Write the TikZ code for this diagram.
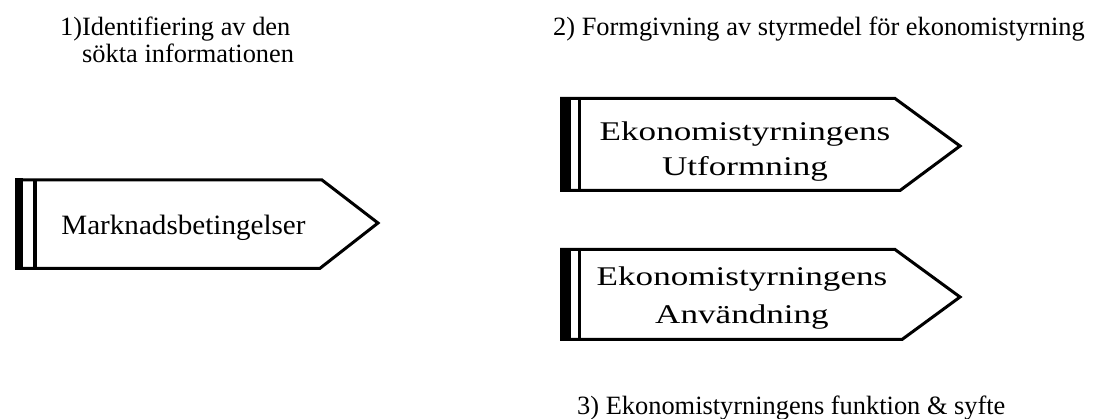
\documentclass[tikz,border=0pt]{standalone}
\usepackage{fontspec}
\setmainfont{Liberation Serif}
\newfontfamily\widefont[FakeStretch=1.3]{Liberation Serif}
\newfontfamily\markfont[FakeStretch=1.04]{Liberation Serif}
\begin{document}
\begin{tikzpicture}[x=1pt,y=-1pt,
  post/.style={draw=black, line width=3pt, line join=miter, fill=white},
  postbar/.style={fill=black},
  postline/.style={draw=black, line width=3.5pt},
  head/.style={inner sep=0pt, font=\fontsize{26.4}{27}\selectfont},
  signtext/.style={inner sep=0pt, align=center}
]
\useasboundingbox (0,0) rectangle (1093,419);
\fill[white] (0,0) rectangle (1093,419);

% left signpost
\path[post] (16.5,180) -- (322,180) -- (378,223) -- (320,268.3) -- (16.5,268.3) -- cycle;
\path[postbar] (15,178.5) rectangle (23,269.8);
\draw[postline] (35,180) -- (35,268.3);
\node[inner sep=0pt, anchor=base, font=\markfont\fontsize{28}{30}\selectfont] (mark) at (183.5,235) {Marknadsbetingelser};

% right signpost 1
\path[post] (561.5,98.5) -- (895,98.5) -- (960,146) -- (900,190.5) -- (561.5,190.5) -- cycle;
\path[postbar] (560,97) rectangle (571,192);
\draw[postline] (579.5,98.5) -- (579.5,190.5);
\node[signtext, font=\widefont\fontsize{27}{35}\selectfont] (utf) at (745,151.5) {Ekonomistyrningens\\Utformning};

% right signpost 2
\path[post] (561.5,249.5) -- (895,249.5) -- (960,297) -- (902,339.5) -- (561.5,339.5) -- cycle;
\path[postbar] (560,248) rectangle (571,341);
\draw[postline] (579.5,249.5) -- (579.5,339.5);
\node[signtext, font=\widefont\fontsize{27}{38}\selectfont] (anv) at (742,298) {Ekonomistyrningens\\Användning};

% headings
\node[head, anchor=north west, align=left] (h1) at (60,17) {1)Identifiering av den\\\hphantom{1)}sökta informationen};
\node[head, anchor=base west] (h2) at (553,36) {2) Formgivning av styrmedel för ekonomistyrning};
\node[head, anchor=base west] (h3) at (577,415) {3) Ekonomistyrningens funktion \& syfte};
\end{tikzpicture}
\end{document}
